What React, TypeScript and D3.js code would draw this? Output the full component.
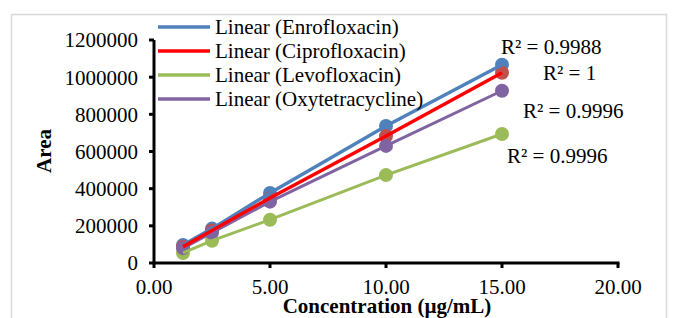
import React from 'react';
import * as d3 from 'd3';

// concentrations (µg/mL) and peak areas
const conc = [1.25, 2.5, 5, 10, 15];
const enro = [97000, 185000, 377000, 737000, 1067000];
const cipro = [88000, 175000, 350000, 683000, 1024000];
const levo = [54000, 120000, 233000, 473000, 694000];
const oxy = [80000, 163000, 330000, 630000, 927000];

const names = ['Enrofloxacin', 'Ciprofloxacin', 'Levofloxacin', 'Oxytetracycline'];
const r2Labels = ['R² = 0.9988', 'R² = 1', 'R² = 0.9996', 'R² = 0.9996'];
const xTicks = [0, 5, 10, 15, 20];
const yTicks = [0, 200000, 400000, 600000, 800000, 1000000, 1200000];

const lineColors = ['#4F81BD', '#FF0000', '#9BBB59', '#8064A2'];
const markColors = ['#4F81BD', '#C0504D', '#9BBB59', '#8064A2'];
const lineWidths = [3.5, 3.5, 3, 3];
// label anchor positions in px (x, baseline)
const r2Pos = [[501, 54], [543, 80], [523, 118], [507, 163]];

const FONT = "'Times New Roman', 'Liberation Serif', serif";

const App = () => {
  const W = 675;
  const H = 318;
  const x = d3.scaleLinear().domain([0, 20]).range([154, 618]);
  const y = d3.scaleLinear().domain([0, 1200000]).range([263, 40]);

  const series = [enro, cipro, levo, oxy];
  const line = d3
    .line<number>()
    .x((_, i) => x(conc[i]))
    .y((d) => y(d));

  const drawOrder = [0, 2, 3, 1];

  return (
    <svg
      width={W}
      height={H}
      style={{ position: 'absolute', left: 0, top: 0, background: '#fff' }}
      fontFamily={FONT}
    >
      <rect x={11.5} y={14.5} width={655} height={320} fill="#fff" stroke="#d9d9d9" strokeWidth={1.5} />

      {/* markers */}
      {series.map((s, k) =>
        s.map((v, i) => (
          <circle key={`m${k}-${i}`} cx={x(conc[i])} cy={y(v)} r={7} fill={markColors[k]} />
        ))
      )}

      {/* linear trendlines */}
      {drawOrder.map((k) => (
        <path key={`l${k}`} d={line(series[k]) || ''} fill="none" stroke={lineColors[k]} strokeWidth={lineWidths[k]} />
      ))}

      {/* y axis */}
      <line x1={154} x2={154} y1={y(1200000)} y2={y(0)} stroke="#000" strokeWidth={3} />
      {yTicks.map((t) => (
        <g key={`yt${t}`}>
          <line x1={149} x2={154} y1={y(t)} y2={y(t)} stroke="#000" strokeWidth={3} />
          <text x={138} y={y(t)} dy="0.35em" textAnchor="end" fontSize={21}>
            {t}
          </text>
        </g>
      ))}

      {/* x axis */}
      <line x1={x(0) - 1.5} x2={x(20) + 1.5} y1={263} y2={263} stroke="#000" strokeWidth={3} />
      {xTicks.map((t) => (
        <g key={`xt${t}`}>
          <line x1={x(t)} x2={x(t)} y1={263} y2={268} stroke="#000" strokeWidth={3} />
          <text x={x(t)} y={294} textAnchor="middle" fontSize={21}>
            {d3.format('.2f')(t)}
          </text>
        </g>
      ))}

      <text x={387} y={313} textAnchor="middle" fontSize={21} fontWeight="bold">
        Concentration (µg/mL)
      </text>
      <text transform="translate(51,151) rotate(-90)" textAnchor="middle" fontSize={21} fontWeight="bold">
        Area
      </text>

      {/* R² labels */}
      {r2Labels.map((t, k) => (
        <text key={`r${k}`} x={r2Pos[k][0]} y={r2Pos[k][1]} fontSize={21}>
          {t}
        </text>
      ))}

      {/* legend */}
      {names.map((n, k) => {
        const ly = 27 + k * 24;
        return (
          <g key={`lg${k}`}>
            <line x1={158} x2={210} y1={ly} y2={ly} stroke={lineColors[k]} strokeWidth={3.5} />
            <text x={215} y={ly} dy="0.33em" fontSize={21}>
              Linear ({n})
            </text>
          </g>
        );
      })}
    </svg>
  );
};

export default App;
